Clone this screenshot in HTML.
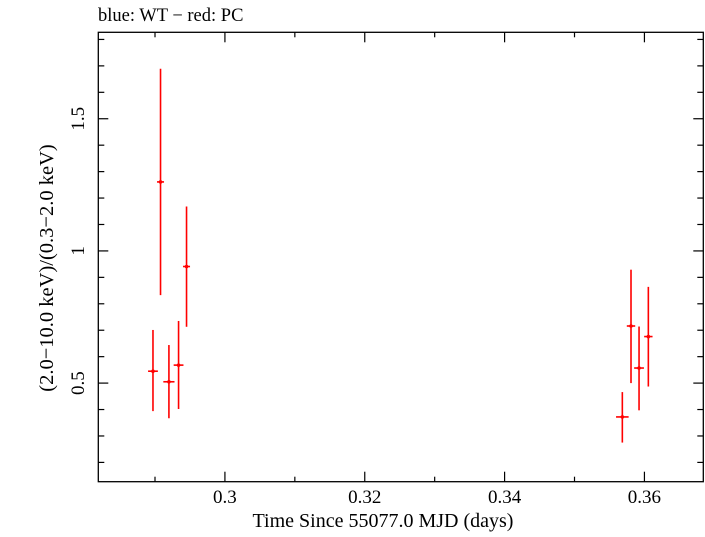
<!DOCTYPE html>
<html><head><meta charset="utf-8"><style>
html,body{margin:0;padding:0;background:#fff;}
svg text{font-family:"Liberation Serif",serif;fill:#000;}
</style></head><body>
<svg id="chart" width="705" height="532" viewBox="0 0 705 532" xmlns="http://www.w3.org/2000/svg">
<rect width="705" height="532" fill="#fff"/>
<text x="98" y="21" font-size="18.5">blue: WT − red: PC</text>
<rect x="98.3" y="32.3" width="605" height="449.4" fill="none" stroke="#000" stroke-width="1.3"/>
<g id="ticks"></g>
<g id="marks"></g>
<text x="383" y="527" font-size="20" text-anchor="middle">Time Since 55077.0 MJD (days)</text>
<text transform="translate(53,268) rotate(-90)" font-size="20.5" text-anchor="middle">(2.0−10.0 keV)/(0.3−2.0 keV)</text>
</svg>
<script>
const times = [0.28971, 0.29079, 0.29199, 0.29337, 0.29451, 0.35684, 0.35808, 0.35923, 0.36056];
const timeErr = [0.0007, 0.0005, 0.0008, 0.0007, 0.0005, 0.0009, 0.0006, 0.0007, 0.0006];
const ratios = [0.545, 1.261, 0.505, 0.568, 0.941, 0.372, 0.716, 0.557, 0.676];
const ratioHi = [0.701, 1.689, 0.644, 0.735, 1.168, 0.466, 0.929, 0.714, 0.864];
const ratioLo = [0.394, 0.833, 0.367, 0.402, 0.713, 0.275, 0.500, 0.397, 0.487];
const xTickLabels = ["0.3", "0.32", "0.34", "0.36"];
const yTickLabels = ["0.5", "1", "1.5"];

const L=98.3,R=703.3,T=32.3,B=481.7;
const xMin=0.28189,xMax=0.36842,yMin=0.127,yMax=1.827;
const X=v=>L+(v-xMin)/(xMax-xMin)*(R-L);
const Y=v=>B-(v-yMin)/(yMax-yMin)*(B-T);
const NS="http://www.w3.org/2000/svg";
function mk(tag,attrs,parent){const e=document.createElementNS(NS,tag);for(const k in attrs)e.setAttribute(k,attrs[k]);parent.appendChild(e);return e;}
const tg=document.getElementById('ticks');
for(let i=Math.ceil(xMin/0.01);i*0.01<=xMax;i++){
  const v=i*0.01,x=X(v),len=(i%2===0)?10:5;
  const a=mk('line',{x1:x,x2:x,y1:B,y2:B-len,stroke:'#000','stroke-width':1.2},tg);
  
  
  const b=mk('line',{x1:x,x2:x,y1:T,y2:T+len,stroke:'#000','stroke-width':1.2},tg);
  
  
}
xTickLabels.forEach(s=>{
  const t=mk('text',{x:X(parseFloat(s)),y:503,'font-size':19,'text-anchor':'middle'},tg);
  t.textContent=s;
  
  
});
for(let i=Math.ceil(yMin/0.1);i*0.1<=yMax+1e-9;i++){
  const v=i*0.1,y=Y(v),major=(i%5===0),len=major?10:6;
  const a=mk('line',{x1:L,x2:L+len,y1:y,y2:y,stroke:'#000','stroke-width':1.2},tg);
  
  
  const b=mk('line',{x1:R,x2:R-len,y1:y,y2:y,stroke:'#000','stroke-width':1.2},tg);
  
  
}
yTickLabels.forEach(s=>{
  const y=Y(parseFloat(s));
  const t=mk('text',{transform:`translate(84,${y}) rotate(-90)`,'font-size':19,'text-anchor':'middle'},tg);
  t.textContent=s;
  
  
});
const mg=document.getElementById('marks');
times.forEach((t,i)=>{
  const g=mk('g',{},mg);
  
  
  mk('line',{x1:X(t),x2:X(t),y1:Y(ratioLo[i]),y2:Y(ratioHi[i]),stroke:'#f00','stroke-width':1.6},g);
  mk('line',{x1:X(t-timeErr[i]),x2:X(t+timeErr[i]),y1:Y(ratios[i]),y2:Y(ratios[i]),stroke:'#f00','stroke-width':1.6},g);
  mk('circle',{cx:X(t),cy:Y(ratios[i]),r:1.8,fill:'#f00'},g);
});
</script>
</body></html>
